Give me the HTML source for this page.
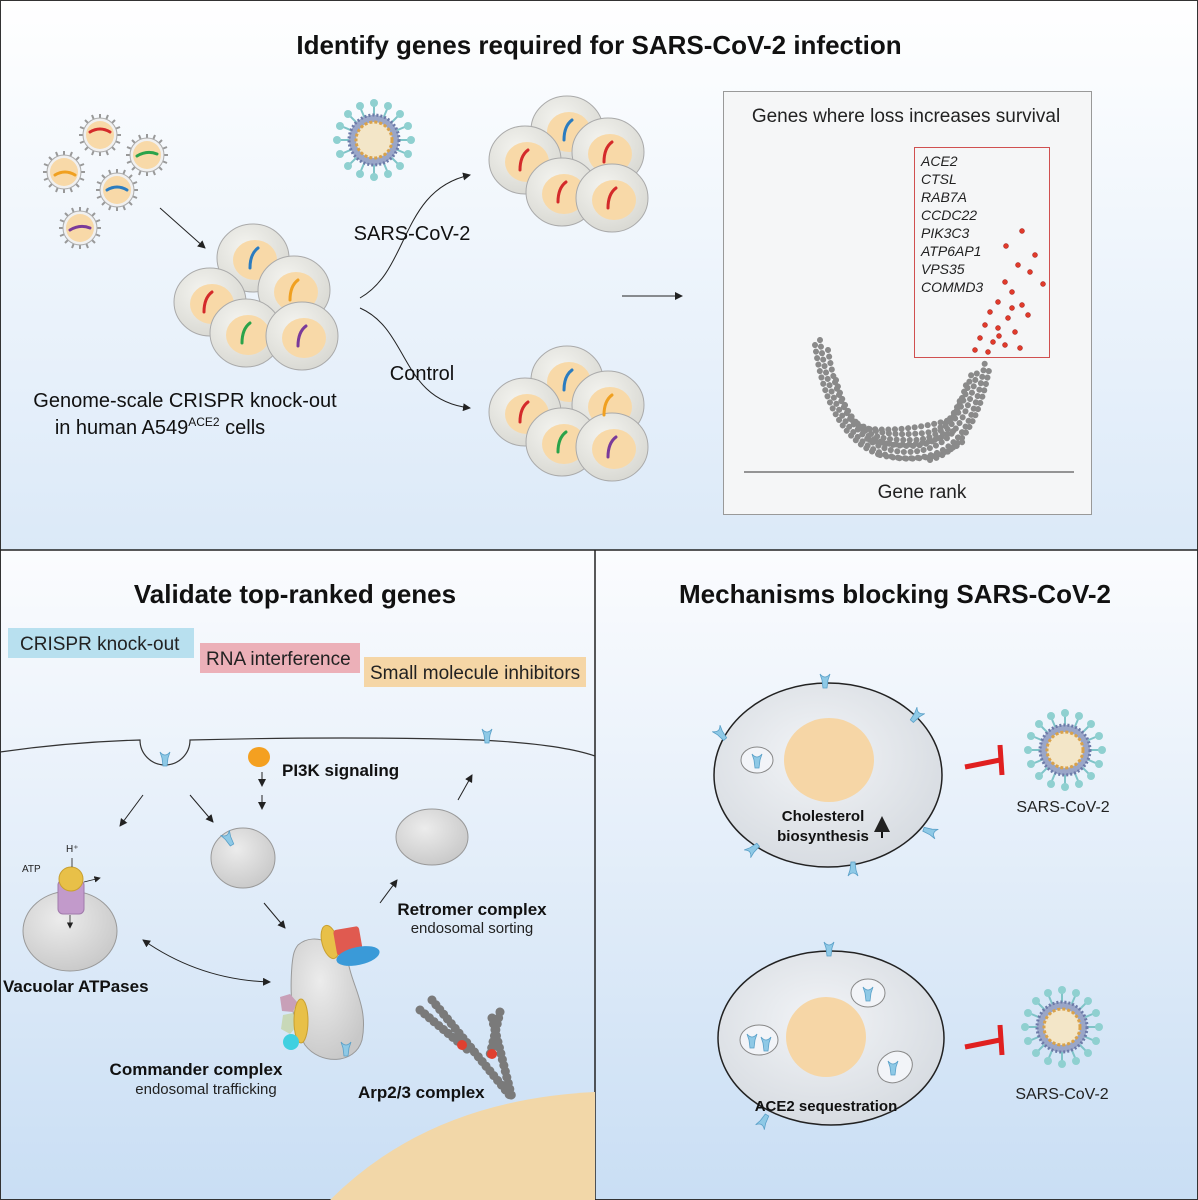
<!DOCTYPE html>
<html><head><meta charset="utf-8"><style>
body{margin:0;background:#fff}
svg{display:block;font-family:"Liberation Sans",Arial,sans-serif}
</style></head><body>
<svg width="1198" height="1200" viewBox="0 0 1198 1200" xmlns="http://www.w3.org/2000/svg">
<defs>
<linearGradient id="bg" x1="0" y1="0" x2="0" y2="1"><stop offset="0" stop-color="#ffffff"/><stop offset="1" stop-color="#dbe9f8"/></linearGradient>
<linearGradient id="bg2" x1="0" y1="0" x2="0" y2="1"><stop offset="0" stop-color="#fbfcfe"/><stop offset="1" stop-color="#c9def4"/></linearGradient>
<radialGradient id="cellg" cx="0.4" cy="0.35" r="0.7"><stop offset="0" stop-color="#f4f4f0"/><stop offset="1" stop-color="#d8d8d2"/></radialGradient>
<radialGradient id="grey" cx="0.4" cy="0.35" r="0.7"><stop offset="0" stop-color="#ececec"/><stop offset="1" stop-color="#c8c8c8"/></radialGradient>
<radialGradient id="bigcell" cx="0.45" cy="0.4" r="0.7"><stop offset="0" stop-color="#f2f4f7"/><stop offset="1" stop-color="#d3d8de"/></radialGradient>
<marker id="ah" markerWidth="8" markerHeight="8" refX="7" refY="4" orient="auto"><path d="M0,0 L8,4 L0,8 z" fill="#222"/></marker>
<marker id="ahs" markerWidth="8" markerHeight="8" refX="1" refY="4" orient="auto"><path d="M8,0 L0,4 L8,8 z" fill="#222"/></marker>
<g id="cell"><ellipse cx="0" cy="0" rx="36" ry="34" fill="url(#cellg)" stroke="#aaa"/><ellipse cx="2" cy="2" rx="22" ry="20" fill="#f8d9a8"/></g>
<g id="vir">
<g stroke="#999" stroke-width="2"><line x1="0" y1="-21" x2="0" y2="21"/><line x1="-21" y1="0" x2="21" y2="0"/><line x1="-15" y1="-15" x2="15" y2="15"/><line x1="15" y1="-15" x2="-15" y2="15"/><line x1="-8" y1="-20" x2="8" y2="20"/><line x1="8" y1="-20" x2="-8" y2="20"/><line x1="-20" y1="-8" x2="20" y2="8"/><line x1="20" y1="-8" x2="-20" y2="8"/></g>
<circle r="17" fill="#f0f0f0" stroke="#aaa"/><circle r="14" fill="#f8d9a8"/></g>
<g id="bv">
<g stroke="#7fc4c8" stroke-width="2">
<line x1="0" y1="-36" x2="0" y2="36"/><line x1="-36" y1="0" x2="36" y2="0"/><line x1="-25" y1="-25" x2="25" y2="25"/><line x1="25" y1="-25" x2="-25" y2="25"/><line x1="-14" y1="-33" x2="14" y2="33"/><line x1="14" y1="-33" x2="-14" y2="33"/><line x1="-33" y1="-14" x2="33" y2="14"/><line x1="33" y1="-14" x2="-33" y2="14"/></g>
<g fill="#8fd0d0"><circle cx="0" cy="-37" r="4"/><circle cx="0" cy="37" r="4"/><circle cx="-37" cy="0" r="4"/><circle cx="37" cy="0" r="4"/><circle cx="26" cy="26" r="4"/><circle cx="-26" cy="26" r="4"/><circle cx="26" cy="-26" r="4"/><circle cx="-26" cy="-26" r="4"/><circle cx="14" cy="-34" r="4"/><circle cx="-14" cy="-34" r="4"/><circle cx="14" cy="34" r="4"/><circle cx="-14" cy="34" r="4"/><circle cx="34" cy="14" r="4"/><circle cx="34" cy="-14" r="4"/><circle cx="-34" cy="14" r="4"/><circle cx="-34" cy="-14" r="4"/></g>
<circle r="25" fill="#9aa6c8" stroke="#6c7aa8" stroke-width="3" stroke-dasharray="2 2"/><circle r="18" fill="#f3e6c8" stroke="#d9a24a" stroke-width="3" stroke-dasharray="3 2"/></g>
<path id="ace" d="M-5,-6 q5,6 10,0 l-2,6 l-1,8 h-4 l-1,-8 z" fill="#8ec9e6" stroke="#5aa0c8" stroke-width="0.8"/>
</defs>

<rect x="0" y="0" width="1198" height="550" fill="url(#bg)"/>
<rect x="0" y="550" width="595" height="650" fill="url(#bg2)"/>
<rect x="595" y="550" width="603" height="650" fill="url(#bg2)"/>
<rect x="0.5" y="0.5" width="1197" height="1199" fill="none" stroke="#333"/>
<line x1="0" y1="550" x2="1198" y2="550" stroke="#222" stroke-width="1.5"/>
<line x1="595" y1="550" x2="595" y2="1200" stroke="#222" stroke-width="1.5"/>

<text x="599" y="54" font-size="26" font-weight="bold" text-anchor="middle" fill="#111">Identify genes required for SARS-CoV-2 infection</text>

<use href="#vir" x="100" y="135"/><use href="#vir" x="147" y="155"/><use href="#vir" x="64" y="172"/><use href="#vir" x="117" y="190"/><use href="#vir" x="80" y="228"/>
<g fill="none" stroke-width="3" stroke-linecap="round">
<path d="M90,132 q10,-6 20,0" stroke="#d42a2a"/><path d="M137,156 q10,-6 20,-2" stroke="#2aa34a"/><path d="M55,175 q10,-6 20,0" stroke="#f0a020"/><path d="M107,190 q10,-6 20,0" stroke="#2b7cc0"/><path d="M70,230 q10,-6 20,-2" stroke="#7a3a9a"/></g>
<line x1="160" y1="208" x2="205" y2="248" stroke="#222" marker-end="url(#ah)"/>

<use href="#cell" x="253" y="258"/><use href="#cell" x="294" y="290"/><use href="#cell" x="210" y="302"/><use href="#cell" x="246" y="333"/><use href="#cell" x="302" y="336"/>
<g fill="none" stroke-width="3" stroke-linecap="round">
<path d="M250,268 q0,-14 8,-20" stroke="#2b7cc0"/><path d="M290,300 q0,-14 8,-20" stroke="#f0a020"/><path d="M204,312 q0,-14 8,-20" stroke="#d42a2a"/><path d="M242,343 q0,-14 8,-20" stroke="#2aa34a"/><path d="M298,346 q0,-14 8,-20" stroke="#7a3a9a"/></g>
<text x="185" y="407" font-size="20" text-anchor="middle" fill="#111">Genome-scale CRISPR knock-out</text>
<text x="160" y="434" font-size="20" text-anchor="middle" fill="#111">in human A549<tspan font-size="12" dy="-8">ACE2</tspan><tspan dy="8"> cells</tspan></text>

<use href="#bv" x="374" y="140"/>
<path d="M360,298 C410,270 400,190 470,175" fill="none" stroke="#222" marker-end="url(#ah)"/>
<path d="M360,308 C410,330 400,400 470,408" fill="none" stroke="#222" marker-end="url(#ah)"/>
<text x="412" y="240" font-size="20" text-anchor="middle" fill="#111">SARS-CoV-2</text>
<text x="422" y="380" font-size="20" text-anchor="middle" fill="#111">Control</text>

<use href="#cell" x="567" y="130"/><use href="#cell" x="525" y="160"/><use href="#cell" x="608" y="152"/><use href="#cell" x="562" y="192"/><use href="#cell" x="612" y="198"/>
<use href="#cell" x="567" y="380"/><use href="#cell" x="525" y="412"/><use href="#cell" x="608" y="405"/><use href="#cell" x="562" y="442"/><use href="#cell" x="612" y="447"/>
<g fill="none" stroke-width="3" stroke-linecap="round">
<path d="M564,140 q0,-14 8,-20" stroke="#2b7cc0"/><path d="M520,170 q0,-14 8,-20" stroke="#d42a2a"/><path d="M604,162 q0,-14 8,-20" stroke="#d42a2a"/><path d="M558,202 q0,-14 8,-20" stroke="#d42a2a"/><path d="M608,208 q0,-14 8,-20" stroke="#d42a2a"/>
<path d="M564,390 q0,-14 8,-20" stroke="#2b7cc0"/><path d="M520,422 q0,-14 8,-20" stroke="#d42a2a"/><path d="M604,415 q0,-14 8,-20" stroke="#f0a020"/><path d="M558,452 q0,-14 8,-20" stroke="#2aa34a"/><path d="M608,457 q0,-14 8,-20" stroke="#7a3a9a"/></g>

<line x1="622" y1="296" x2="682" y2="296" stroke="#222" marker-end="url(#ah)"/>

<rect x="723.5" y="91.5" width="368" height="423" fill="#f5f6f7" stroke="#999"/>
<text x="906" y="122" font-size="19" text-anchor="middle" fill="#222">Genes where loss increases survival</text>
<rect x="914.5" y="147.5" width="135" height="210" fill="none" stroke="#d05050"/>
<g font-size="14" font-style="italic" fill="#222">
<text x="921" y="166">ACE2</text><text x="921" y="184">CTSL</text><text x="921" y="202">RAB7A</text><text x="921" y="220">CCDC22</text><text x="921" y="238">PIK3C3</text><text x="921" y="256">ATP6AP1</text><text x="921" y="274">VPS35</text><text x="921" y="292">COMMD3</text></g>
<line x1="744" y1="472" x2="1074" y2="472" stroke="#333"/>
<text x="922" y="498" font-size="19" text-anchor="middle" fill="#222">Gene rank</text>
<g fill="none" stroke="#8a8a8a" stroke-width="6" stroke-linecap="round" stroke-dasharray="0.1 6.5">
<path d="M820,340 C828,400 850,452 900,458 C960,462 975,420 985,362"/>
<path d="M828,350 C838,410 858,450 905,452 C955,452 968,415 978,368"/>
<path d="M836,380 C850,430 870,446 910,446 C950,446 962,410 972,372"/>
<path d="M845,405 C862,440 885,440 915,440 C945,438 958,415 966,385"/>
<path d="M852,420 C875,436 900,435 925,433 C945,430 955,415 962,395"/>
<path d="M862,428 C890,432 920,428 950,420"/>
<path d="M815,345 C822,395 840,440 880,455"/>
<path d="M930,460 C960,452 980,420 990,365"/>
<path d="M870,440 C900,448 930,446 955,430"/>
<path d="M880,455 C910,462 940,460 965,440"/>
</g>
<g fill="#e03a2a" stroke="#a02020" stroke-width="0.5">
<circle cx="1022" cy="231" r="2.5"/><circle cx="1006" cy="246" r="2.5"/><circle cx="1035" cy="255" r="2.5"/><circle cx="1018" cy="265" r="2.5"/><circle cx="1030" cy="272" r="2.5"/><circle cx="1043" cy="284" r="2.5"/><circle cx="1005" cy="282" r="2.5"/><circle cx="1012" cy="292" r="2.5"/><circle cx="998" cy="302" r="2.5"/><circle cx="1022" cy="305" r="2.5"/><circle cx="990" cy="312" r="2.5"/><circle cx="1008" cy="318" r="2.5"/><circle cx="1028" cy="315" r="2.5"/><circle cx="985" cy="325" r="2.5"/><circle cx="998" cy="328" r="2.5"/><circle cx="1015" cy="332" r="2.5"/><circle cx="980" cy="338" r="2.5"/><circle cx="993" cy="342" r="2.5"/><circle cx="1005" cy="345" r="2.5"/><circle cx="1020" cy="348" r="2.5"/><circle cx="975" cy="350" r="2.5"/><circle cx="988" cy="352" r="2.5"/><circle cx="999" cy="336" r="2.5"/><circle cx="1012" cy="308" r="2.5"/></g>

<text x="295" y="603" font-size="26" font-weight="bold" text-anchor="middle" fill="#111">Validate top-ranked genes</text>
<rect x="8" y="628" width="186" height="30" fill="#b8e0ef"/>
<text x="20" y="650" font-size="19" fill="#222">CRISPR knock-out</text>
<rect x="200" y="643" width="160" height="30" fill="#ecb0b8"/>
<text x="206" y="665" font-size="19" fill="#222">RNA interference</text>
<rect x="364" y="657" width="222" height="30" fill="#f5d6a6"/>
<text x="370" y="679" font-size="19" fill="#222">Small molecule inhibitors</text>

<path d="M0,752 Q70,742 140,740 A25,25 0 0 0 190,740 Q350,736 480,740 Q560,744 595,756" fill="none" stroke="#333" stroke-width="1.2"/>
<use href="#ace" x="165" y="758"/><use href="#ace" x="487" y="735"/>
<path d="M330,1200 Q430,1100 595,1092 L595,1200 Z" fill="#f2d7a8"/>

<ellipse cx="259" cy="757" rx="11" ry="10" fill="#f4a020"/>
<text x="282" y="776" font-size="17" font-weight="bold" fill="#111">PI3K signaling</text>
<line x1="262" y1="772" x2="262" y2="786" stroke="#222" marker-end="url(#ah)"/>
<line x1="262" y1="795" x2="262" y2="809" stroke="#222" marker-end="url(#ah)"/>
<line x1="143" y1="795" x2="120" y2="826" stroke="#222" marker-end="url(#ah)"/>
<line x1="190" y1="795" x2="213" y2="822" stroke="#222" marker-end="url(#ah)"/>
<line x1="264" y1="903" x2="285" y2="928" stroke="#222" marker-end="url(#ah)"/>
<line x1="380" y1="903" x2="397" y2="880" stroke="#222" marker-end="url(#ah)"/>
<line x1="458" y1="800" x2="472" y2="775" stroke="#222" marker-end="url(#ah)"/>
<path d="M143,940 Q200,980 270,982" fill="none" stroke="#222" marker-start="url(#ahs)" marker-end="url(#ah)"/>

<ellipse cx="243" cy="858" rx="32" ry="30" fill="url(#grey)" stroke="#999"/>
<use href="#ace" x="228" y="838" transform="rotate(-30 228 838)"/>
<ellipse cx="432" cy="837" rx="36" ry="28" fill="url(#grey)" stroke="#999"/>
<text x="472" y="915" font-size="17" font-weight="bold" text-anchor="middle" fill="#111">Retromer complex</text>
<text x="472" y="933" font-size="15" text-anchor="middle" fill="#222">endosomal sorting</text>

<ellipse cx="70" cy="931" rx="47" ry="40" fill="url(#grey)" stroke="#999"/>
<rect x="58" y="880" width="26" height="34" rx="5" fill="#c29acb" stroke="#a07aab"/>
<circle cx="71" cy="879" r="12" fill="#e8c048" stroke="#c9a030"/>
<line x1="72" y1="858" x2="72" y2="867" stroke="#444"/>
<text x="66" y="852" font-size="10" fill="#222">H⁺</text>
<text x="22" y="872" font-size="10" fill="#222">ATP</text>
<line x1="84" y1="882" x2="100" y2="878" stroke="#222" stroke-width="0.8" marker-end="url(#ah)"/>
<line x1="70" y1="915" x2="70" y2="928" stroke="#222" stroke-width="0.8" marker-end="url(#ah)"/>
<text x="3" y="992" font-size="17" font-weight="bold" fill="#111">Vacuolar ATPases</text>

<path d="M298,945 C315,930 345,945 350,970 C355,990 368,1010 362,1040 C355,1065 320,1065 305,1045 C290,1020 290,990 292,965 C293,955 294,950 298,945 Z" fill="url(#grey)" stroke="#999"/>
<ellipse cx="330" cy="942" rx="8" ry="17" fill="#e8c048" stroke="#c9a030" transform="rotate(-15 330 942)"/>
<rect x="335" y="928" width="26" height="26" rx="3" fill="#e05a50" transform="rotate(-10 348 941)"/>
<ellipse cx="358" cy="956" rx="22" ry="9" fill="#3a9ad8" transform="rotate(-12 358 956)"/>
<polygon points="280,997 290,994 297,1002 293,1012 282,1011" fill="#c8a0b8"/>
<polygon points="283,1015 293,1013 298,1025 290,1034 281,1029" fill="#c8d8b8"/>
<ellipse cx="301" cy="1021" rx="7" ry="22" fill="#e8c048" stroke="#c9a030"/>
<circle cx="291" cy="1042" r="8" fill="#40d0e0"/>
<use href="#ace" x="346" y="1048"/>
<text x="196" y="1075" font-size="17" font-weight="bold" text-anchor="middle" fill="#111">Commander complex</text>
<text x="206" y="1094" font-size="15" text-anchor="middle" fill="#222">endosomal trafficking</text>

<g stroke="#7a7a7a" stroke-width="9" stroke-linecap="round" stroke-dasharray="0.1 6">
<line x1="420" y1="1010" x2="468" y2="1050"/>
<line x1="432" y1="1000" x2="512" y2="1098"/>
<line x1="492" y1="1018" x2="512" y2="1098"/>
<line x1="500" y1="1012" x2="490" y2="1055"/>
</g>
<circle cx="462" cy="1045" r="5" fill="#e04030"/><circle cx="492" cy="1054" r="5" fill="#e04030"/>
<text x="358" y="1098" font-size="17" font-weight="bold" fill="#111">Arp2/3 complex</text>

<text x="895" y="603" font-size="26" font-weight="bold" text-anchor="middle" fill="#111">Mechanisms blocking SARS-CoV-2</text>
<ellipse cx="828" cy="775" rx="114" ry="92" fill="url(#bigcell)" stroke="#222" stroke-width="1.5"/>
<ellipse cx="829" cy="760" rx="45" ry="42" fill="#f6d6a6"/>
<ellipse cx="757" cy="760" rx="16" ry="13" fill="#f2f4f8" stroke="#888"/>
<use href="#ace" x="757" y="760"/>
<use href="#ace" x="825" y="680"/><use href="#ace" x="720" y="733" transform="rotate(-40 720 733)"/><use href="#ace" x="917" y="715" transform="rotate(40 917 715)"/><use href="#ace" x="931" y="832" transform="rotate(110 931 832)"/><use href="#ace" x="752" y="850" transform="rotate(-130 752 850)"/><use href="#ace" x="853" y="870" transform="rotate(180 853 870)"/>
<text x="823" y="821" font-size="15" font-weight="bold" text-anchor="middle" fill="#111">Cholesterol</text>
<text x="823" y="841" font-size="15" font-weight="bold" text-anchor="middle" fill="#111">biosynthesis</text>
<line x1="882" y1="838" x2="882" y2="818" stroke="#111" stroke-width="2" marker-end="url(#ah)"/>
<line x1="965" y1="767" x2="1000" y2="760" stroke="#e02020" stroke-width="5"/>
<line x1="1000" y1="745" x2="1002" y2="775" stroke="#e02020" stroke-width="5"/>
<use href="#bv" x="1065" y="750"/>
<text x="1063" y="812" font-size="16" text-anchor="middle" fill="#222">SARS-CoV-2</text>

<ellipse cx="831" cy="1038" rx="113" ry="87" fill="url(#bigcell)" stroke="#222" stroke-width="1.5"/>
<ellipse cx="826" cy="1037" rx="40" ry="40" fill="#f6d6a6"/>
<ellipse cx="868" cy="993" rx="17" ry="14" fill="#f2f4f8" stroke="#888"/>
<ellipse cx="759" cy="1040" rx="19" ry="15" fill="#f2f4f8" stroke="#888"/>
<ellipse cx="895" cy="1067" rx="18" ry="15" fill="#f2f4f8" stroke="#888" transform="rotate(-30 895 1067)"/>
<use href="#ace" x="868" y="993"/><use href="#ace" x="752" y="1040"/><use href="#ace" x="766" y="1043"/><use href="#ace" x="893" y="1067"/><use href="#ace" x="829" y="948"/><use href="#ace" x="763" y="1122" transform="rotate(-150 763 1122)"/>
<text x="826" y="1111" font-size="15" font-weight="bold" text-anchor="middle" fill="#111">ACE2 sequestration</text>
<line x1="965" y1="1047" x2="1000" y2="1040" stroke="#e02020" stroke-width="5"/>
<line x1="1000" y1="1025" x2="1002" y2="1055" stroke="#e02020" stroke-width="5"/>
<use href="#bv" x="1062" y="1027"/>
<text x="1062" y="1099" font-size="16" text-anchor="middle" fill="#222">SARS-CoV-2</text>
</svg>
</body></html>
